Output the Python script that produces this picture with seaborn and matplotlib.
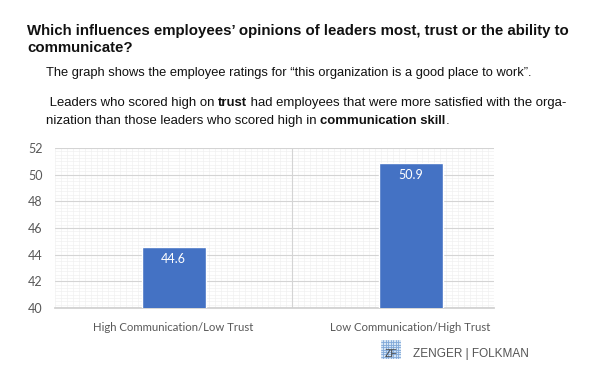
import matplotlib.pyplot as plt
import matplotlib.patches as mpatches
import pandas as pd
import seaborn as sns
from matplotlib.ticker import MultipleLocator

categories = ["High Communication/Low Trust", "Low Communication/High Trust"]
ratings = [44.6, 50.9]
y_ticks = [40, 42, 44, 46, 48, 50, 52]

TITLE = "Which influences employees\u2019 opinions of leaders most, trust or the ability to\ncommunicate?"
SUBTITLE = "The graph shows the employee ratings for \u201cthis organization is a good place to work\u201d."
BAR_COLOR = "#4472C4"
NARROW = ["Lato", "DejaVu Sans"]

sns.set_theme(style="white")
plt.rcParams["font.family"] = ["Liberation Sans", "DejaVu Sans"]

df = pd.DataFrame({"Group": categories, "Rating": ratings})

fig = plt.figure(figsize=(6.0, 3.8), dpi=100)
ax = fig.add_axes([0.0917, 0.1895, 0.731, 0.421])

sns.barplot(data=df, x="Group", y="Rating", color=BAR_COLOR, saturation=1,
            width=0.27, ax=ax, zorder=3)
ax.set_ylim(y_ticks[0], y_ticks[-1])
ax.set_yticks(y_ticks)
ax.set_xlim(-0.5, 1.35)
ax.yaxis.set_minor_locator(MultipleLocator(0.25))
ax.xaxis.set_minor_locator(MultipleLocator(0.025))
ax.grid(True, which="minor", color="#eeeeee", linewidth=0.4, zorder=0)
ax.grid(True, axis="y", which="major", color="#d4d4d4", linewidth=0.8, zorder=1)
ax.axvline(0.5, color="#d4d4d4", linewidth=0.8, zorder=1)
ax.set_xlabel("")
ax.set_ylabel("")
for s in ["top", "left", "right"]:
    ax.spines[s].set_visible(False)
ax.spines["bottom"].set_color("#d0d0d0")
ax.tick_params(axis="x", length=0, labelsize=8.2, colors="#595959", pad=10)
ax.tick_params(axis="y", length=0, labelsize=9, colors="#595959", pad=9)
for lab in ax.get_xticklabels() + ax.get_yticklabels():
    lab.set_family(NARROW)

for i, v in enumerate(ratings):
    ax.text(i, v - 0.9, f"{v}", ha="center", va="center", color="white",
            fontsize=9, family=NARROW, zorder=4)

fig.text(0.045, 0.937, TITLE, fontsize=10.8, fontweight="bold", va="top",
         linespacing=1.3, color="#111111")
fig.text(0.077, 0.808, SUBTITLE, fontsize=9.3, va="center", color="#111111")


def chain(x, y, parts):
    renderer = fig.canvas.get_renderer()
    for txt, bold in parts:
        t = fig.text(x, y, txt, fontsize=9.45, va="center", color="#111111",
                     fontweight="bold" if bold else "normal")
        bb = t.get_window_extent(renderer).transformed(fig.transFigure.inverted())
        x = bb.x1


chain(0.077, 0.729, [(" Leaders who scored high on ", False), ("trust", True),
                     (" had employees that were more satisfied with the orga-", False)])
chain(0.077, 0.682, [("nization than those leaders who scored high in ", False),
                     ("communication skill", True), (".", False)])

# logo
logo = fig.add_axes([0.635, 0.055, 0.033, 0.05])
logo.set_xlim(0, 1)
logo.set_ylim(0, 1)
logo.axis("off")
logo.add_patch(mpatches.Rectangle((0, 0), 1, 1, facecolor="#d6e5f5", edgecolor="none"))
for k in range(1, 8):
    logo.axhline(k / 8, color="#7fa7d8", linewidth=0.6)
    logo.axvline(k / 8, color="#7fa7d8", linewidth=0.6)
logo.text(0.5, 0.25, "ZF", ha="center", va="center", fontsize=7.5, color="#444444")
fig.text(0.688, 0.068, "ZENGER | FOLKMAN", fontsize=8.5, va="center",
         color="#555555", family=["Liberation Sans", "DejaVu Sans"])

fig.savefig("out.png", dpi=100, facecolor="white")
